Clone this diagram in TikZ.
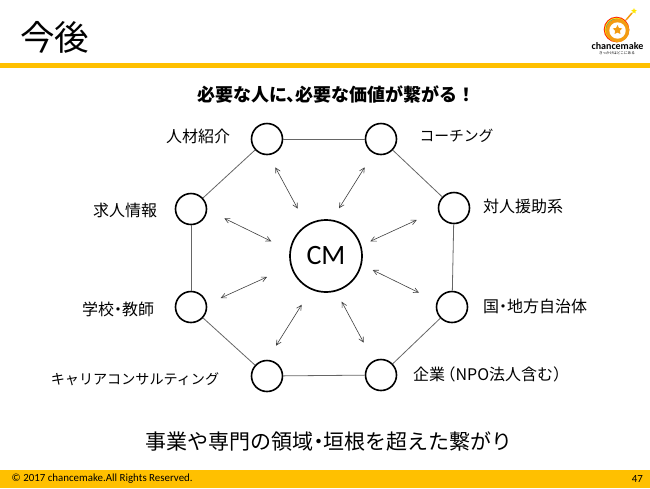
\documentclass[tikz,border=0pt]{standalone}
\usepackage{fontspec}
\setmainfont{Carlito}
\newfontfamily\jp{Noto Sans CJK JP}
\usetikzlibrary{arrows.meta,shapes.geometric}
\definecolor{band}{HTML}{FFC000}
\definecolor{logoorange}{HTML}{F39C12}
\tikzset{
  member/.style={draw, circle, line width=1.6pt, minimum size=31pt, inner sep=0pt, fill=white},
  hub/.style={draw, circle, line width=1.7pt, minimum size=72pt, inner sep=0pt, font=\fontsize{28}{28}\selectfont},
  label/.style={inner sep=0pt, font=\jp\fontsize{16}{18}\selectfont},
  kana/.style={inner sep=0pt, font=\jp\fontsize{14.8}{16}\selectfont},
  ring/.style={draw=black!60, line width=0.8pt},
  link/.style={{Straight Barb[length=5pt,width=5pt]}-{Straight Barb[length=5pt,width=5pt]}, draw=black!75, line width=0.6pt},
  footer/.style={inner sep=0pt, font=\fontsize{10.9}{11}\selectfont},
}
\newcommand{\dotmid}{\hspace{-.25em}・\hspace{-.25em}}
\begin{document}
\begin{tikzpicture}[x=1pt, y=-1pt]
    \useasboundingbox (0,0) rectangle (650,488);
    \fill[band] (0,63) rectangle (650,67.5);
    \fill[band] (0,469.5) rectangle (650,488);
    \node[inner sep=0pt, font=\jp\fontsize{34.5}{36}\selectfont] (title) at (54.5,37) {今後};
    \node[inner sep=0pt, anchor=west, font=\jp\bfseries\fontsize{18}{20}\selectfont] (head) at (197,94.5) {必要な人に、\hspace{-.5em}必要な価値が繋がる！};
    \node[inner sep=0pt, font=\jp\fontsize{21}{23}\selectfont] (foot) at (329,441) {事業や専門の領域\dotmid 垣根を超えた繋がり};
    % logo
    \fill[red!75!orange] (616.5,29.5) circle (12.8pt);
    \fill[yellow!90!orange] (616.5,29.5) circle (11.8pt);
    \fill[cyan!70!blue] (616.5,29.5) circle (10.8pt);
    \fill[white] (616.5,29.5) circle (9.8pt);
    \draw[logoorange, line width=1.5pt] (626,20) -- (632,13);
    \fill[logoorange] (617.5,30.5) circle (11.8pt);
    \fill[white] (617.5,30.5) circle (8.2pt);
    \node[star, star points=5, star point ratio=2, fill=logoorange, inner sep=0pt, minimum size=10pt] (badge) at (617.5,30) {};
    \node[star, star points=5, star point ratio=2.2, fill=yellow!90!orange, inner sep=0pt, minimum size=6pt] (spark) at (634,11) {};
    \node[inner sep=0pt, font=\bfseries\fontsize{10}{10}\selectfont] (brand) at (617.5,46) {chancemake};
    \node[inner sep=0pt, font=\jp\fontsize{3.6}{3.6}\selectfont] (slogan) at (617,53.5) {きっかけはどこにある};
    % ring
    \node[hub] (cm) at (326,256) {CM\hspace{3pt}};
    \node[member] (tl) at (267,139) {};
    \node[member] (tr) at (381,139) {};
    \node[member] (rt) at (454,208) {};
    \node[member] (rb) at (452,307) {};
    \node[member] (br) at (381,375) {};
    \node[member] (bl) at (267,376) {};
    \node[member] (lb) at (191,307) {};
    \node[member] (lt) at (191,209) {};
    \foreach \x/\y in {tl/tr, tr/rt, rt/rb, rb/br, br/bl, bl/lb, lb/lt, lt/tl} \draw[ring] (\x) -- (\y);
    \node[label] (l1) at (198,136) {人材紹介};
    \node[kana] (l2) at (456.5,136) {コーチング};
    \node[label] (l3) at (523,206) {対人援助系};
    \node[label] (l4) at (535,306) {国\dotmid 地方自治体};
    \node[label, anchor=west] (l5) at (413,374) {企業\hspace{-.35em}（NPO法人含む）};
    \node[kana, font=\jp\fontsize{14.1}{16}\selectfont] (l6) at (135,379) {キャリアコンサルティング};
    \node[label] (l7) at (118,309) {学校\dotmid 教師};
    \node[label] (l8) at (125,210) {求人情報};
    % arrows round the hub
    \foreach \n/\ax/\ay/\bx/\by in {1/275.3/167.3/297.7/208.7, 2/364.7/167.3/339/208.3,
        3/224.3/218.3/271.3/241.3, 4/416.7/220/370.3/241.3, 5/267/277/220.7/298,
        6/372.7/270/419/292.7, 7/301.7/304.7/276/345.7, 8/341.7/301.7/363.7/342.7} {
      \coordinate (a\n) at (\ax,\ay);
      \coordinate (b\n) at (\bx,\by);
      \draw[link] (a\n) -- (b\n);
    }
    \node[footer, anchor=west] (copy) at (11.5,479) {© 2017 chancemake.All Rights Reserved.};
    \node[footer, anchor=east] (page) at (643,478.5) {47};
  \end{tikzpicture}
\end{document}
